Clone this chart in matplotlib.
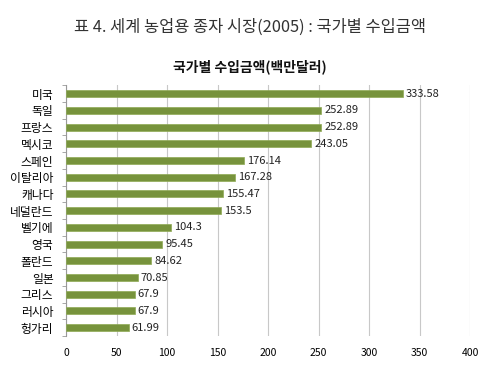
import matplotlib
matplotlib.use("Agg")
import matplotlib.pyplot as plt

plt.rcParams['font.family'] = ['Noto Sans CJK KR', 'DejaVu Sans']

# 국가별 수입금액 (백만달러), 2005
countries = ["미국", "독일", "프랑스", "멕시코", "스페인", "이탈리아", "캐나다", "네덜란드",
             "벨기에", "영국", "폴란드", "일본", "그리스", "러시아", "헝가리"]
values = [333.58, 252.89, 252.89, 243.05, 176.14, 167.28, 155.47, 153.5,
          104.3, 95.45, 84.62, 70.85, 67.9, 67.9, 61.99]
value_labels = ["333.58", "252.89", "252.89", "243.05", "176.14", "167.28", "155.47", "153.5",
                "104.3", "95.45", "84.62", "70.85", "67.9", "67.9", "61.99"]
xticks = [0, 50, 100, 150, 200, 250, 300, 350, 400]

fig = plt.figure(figsize=(5, 3.67), dpi=100)
ax = fig.add_axes([0.132, 0.0845, 0.808, 0.683])

pos = list(range(len(countries)))
ax.barh(pos, values, height=0.42, color="#77933C", edgecolor="#8FAA55", linewidth=0.5, zorder=3)
for p, v, t in zip(pos, values, value_labels):
    ax.text(v + 3, p, t, va="center", ha="left", fontsize=8, color="#222222", zorder=4)

ax.set_ylim(len(countries) - 0.5, -0.5)
ax.set_xlim(0, 400)
ax.set_yticks(pos)
ax.set_yticklabels(countries, fontsize=8.5)
ax.set_xticks(xticks)
ax.set_xticklabels([str(x) for x in xticks], fontsize=7.5)
ax.set_yticks([p + 0.5 for p in [-1] + pos], minor=True)
ax.tick_params(axis="y", which="major", length=0, pad=9)
ax.tick_params(axis="y", which="minor", length=3, color="#999999")
ax.tick_params(axis="x", length=0, pad=9)
ax.grid(axis="x", color="#C8C8C8", linewidth=0.8, zorder=0)

for s in ["top", "right", "bottom"]:
    ax.spines[s].set_visible(False)
ax.spines["left"].set_color("#999999")

fig.text(0.5, 0.925, "표 4. 세계 농업용 종자 시장(2005) : 국가별 수입금액",
         ha="center", va="center", fontsize=11.8, color="#333333")
fig.text(0.5, 0.818, "국가별 수입금액(백만달러)", ha="center", va="center",
         fontsize=10, fontweight="bold", color="#111111")

fig.savefig("out.png", dpi=100)
